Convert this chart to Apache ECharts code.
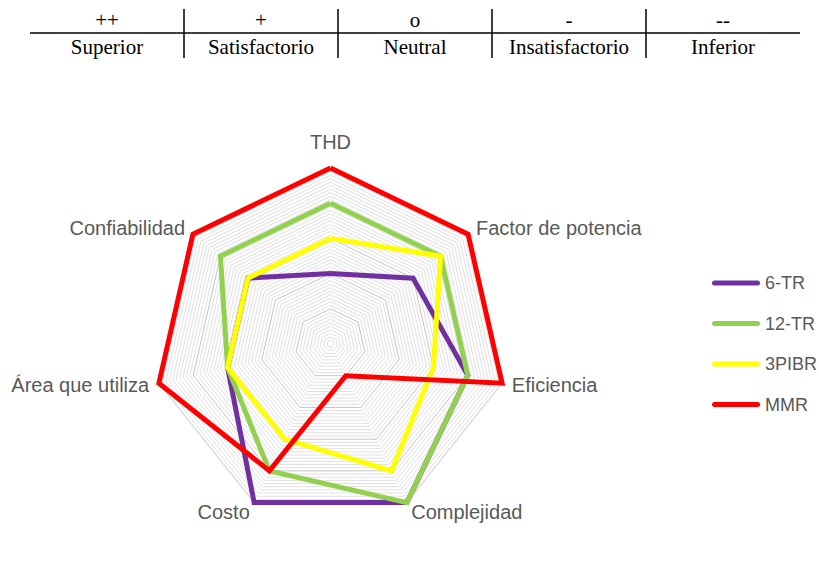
<!DOCTYPE html>
<html>
<head>
<meta charset="utf-8">
<script src="https://cdn.jsdelivr.net/npm/echarts@6/dist/echarts.min.js"></script>
<style>
  html, body { margin: 0; padding: 0; background: #fff; }
  #chart { width: 819px; height: 565px; }
</style>
</head>
<body>
<div id="chart"></div>
<script>
// rating scale table
var symbols = ['++', '+', 'o', '-', '--']
var ratings = ['Superior', 'Satisfactorio', 'Neutral', 'Insatisfactorio', 'Inferior']

// radar axes, clockwise from the top
var criteria = ['THD', 'Factor de potencia', 'Eficiencia', 'Complejidad', 'Costo', 'Área que utiliza', 'Confiabilidad']
var scaleMax = 5

var seriesNames = ['6-TR', '12-TR', '3PIBR', 'MMR']
var colors = ['#7030A0', '#92D050', '#FFFF00', '#FF0000']
var tr6 = [2, 3, 4, 5, 5, 3, 3]
var tr12 = [4, 4, 4, 5, 4, 3, 4]
var pibr3 = [3, 4, 3, 4, 3, 3, 3]
var mmr = [5, 5, 5, 1, 4, 5, 5]
var values = [tr6, tr12, pibr3, mmr]

// echarts lays indicators out counter-clockwise, so flip the tail
function ccw(arr) {
  return [arr[0]].concat(arr.slice(1).reverse())
}

var chart = echarts.init(document.getElementById('chart'), null, { renderer: 'svg' })

var tableLeft = 30
var tableRight = 800
var colW = (tableRight - tableLeft) / symbols.length
var graphics = []
graphics.push({
  type: 'line',
  shape: { x1: tableLeft, y1: 33, x2: tableRight, y2: 33 },
  style: { stroke: '#000', lineWidth: 1.5 }
})
for (var i = 0; i < symbols.length; i++) {
  var cx = tableLeft + colW * (i + 0.5)
  graphics.push({
    type: 'text',
    x: cx,
    y: 20,
    style: {
      text: symbols[i],
      fontFamily: 'Liberation Serif',
      fontSize: 21,
      fill: '#000',
      align: 'center',
      verticalAlign: 'middle'
    }
  })
  graphics.push({
    type: 'text',
    x: cx,
    y: 47,
    style: {
      text: ratings[i],
      fontFamily: 'Liberation Serif',
      fontSize: 21,
      fill: '#000',
      align: 'center',
      verticalAlign: 'middle'
    }
  })
  if (i > 0) {
    var vx = tableLeft + colW * i
    graphics.push({
      type: 'line',
      shape: { x1: vx, y1: 9, x2: vx, y2: 58 },
      style: { stroke: '#000', lineWidth: 1.5 }
    })
  }
}

// light rings every 0.1, darker ring at each whole unit
var ringColors = ['#c4c4c4']
for (var k = 0; k < 9; k++) ringColors.push('#e0e0e0')

var option = {
  backgroundColor: '#fff',
  animation: false,
  graphic: graphics,
  legend: {
    orient: 'vertical',
    left: 712,
    top: 273,
    padding: 0,
    itemWidth: 48,
    itemHeight: 5,
    itemGap: 20.5,
    icon: 'path://M2.5,0H45.5A2.5,2.5,0,0,1,45.5,5H2.5A2.5,2.5,0,0,1,2.5,0Z',
    textStyle: {
      fontFamily: 'Liberation Sans',
      fontSize: 18,
      lineHeight: 20,
      color: '#595959'
    },
    data: seriesNames
  },
  radar: {
    center: [330.5, 344],
    radius: 176,
    startAngle: 90,
    shape: 'polygon',
    splitNumber: 50,
    nameGap: 10,
    axisName: {
      fontFamily: 'Liberation Sans',
      fontSize: 20,
      color: '#595959',
      formatter: function (name) {
        return name === criteria[0] ? '{top|' + name + '}' : name
      },
      rich: {
        top: {
          fontFamily: 'Liberation Sans',
          fontSize: 20,
          color: '#595959',
          padding: [0, 0, 6, 0]
        }
      }
    },
    indicator: ccw(criteria).map(function (c) {
      return { name: c, min: 0, max: scaleMax }
    }),
    axisLine: { show: false },
    axisTick: { show: false },
    axisLabel: { show: false },
    splitArea: { show: false },
    splitLine: {
      lineStyle: { color: ringColors, width: 1 }
    }
  },
  series: [{
    type: 'radar',
    symbol: 'none',
    data: seriesNames.map(function (n, idx) {
      return {
        name: n,
        value: ccw(values[idx]),
        itemStyle: { color: colors[idx] },
        lineStyle: { color: colors[idx], width: 5, join: 'miter' }
      }
    })
  }]
}

chart.setOption(option)
</script>
</body>
</html>
